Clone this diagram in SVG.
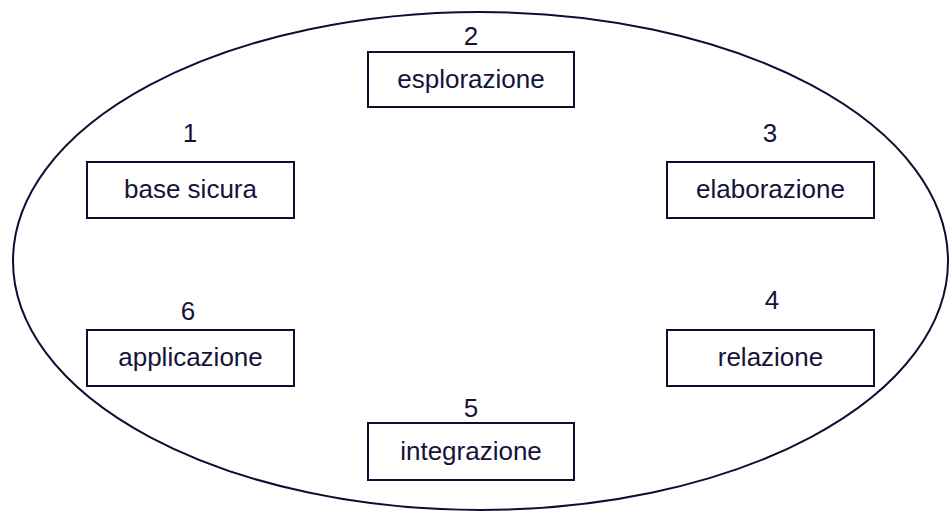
<svg xmlns="http://www.w3.org/2000/svg" width="950" height="511" viewBox="0 0 950 511">
<style>
.box{fill:#fff;stroke:#0f0d33;stroke-width:2}
.lbl{font-family:"Liberation Sans",Arial,sans-serif;font-size:26px;fill:#15133a;text-anchor:middle}
</style>
<rect width="950" height="511" fill="#fff"/>
<g id="frame"><ellipse cx="480.5" cy="261" rx="467.5" ry="249" fill="none" stroke="#0f0d33" stroke-width="2"/></g>
<g id="connectors"></g>
<g id="n2"><text class="lbl" x="471" y="45">2</text><rect class="box" x="368" y="52" width="206" height="55"/><text class="lbl" x="471" y="88">esplorazione</text></g>
<g id="n1"><text class="lbl" x="190" y="142">1</text><rect class="box" x="87" y="162" width="207" height="56"/><text class="lbl" x="190.5" y="198">base sicura</text></g>
<g id="n3"><text class="lbl" x="770" y="142">3</text><rect class="box" x="667" y="162" width="207" height="56"/><text class="lbl" x="770.5" y="198">elaborazione</text></g>
<g id="n6"><text class="lbl" x="188" y="320">6</text><rect class="box" x="87" y="330" width="207" height="56"/><text class="lbl" x="190.5" y="366">applicazione</text></g>
<g id="n4"><text class="lbl" x="772" y="309">4</text><rect class="box" x="667" y="330" width="207" height="56"/><text class="lbl" x="770.5" y="366">relazione</text></g>
<g id="n5"><text class="lbl" x="471" y="417">5</text><rect class="box" x="368" y="423" width="206" height="57"/><text class="lbl" x="471" y="460">integrazione</text></g>
</svg>
